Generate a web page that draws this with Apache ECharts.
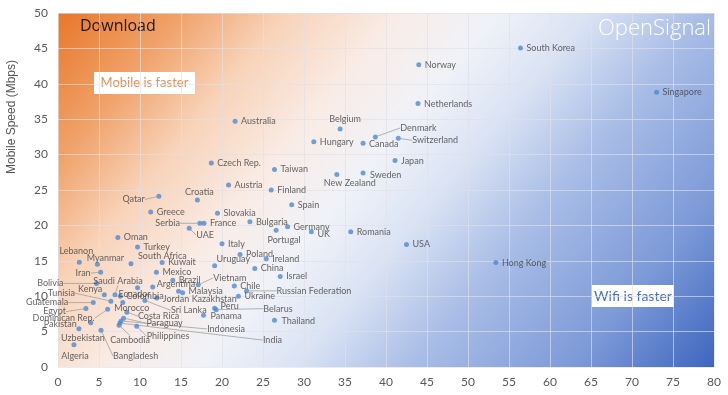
<!DOCTYPE html>
<html><head><meta charset="utf-8">
<script src="https://cdn.jsdelivr.net/npm/echarts@6/dist/echarts.min.js"></script>
<style>html,body{margin:0;padding:0;background:#fff}#c{width:728px;height:395px}</style>
</head><body><div id="c"></div>
<script>
const countries = ["South Korea","Norway","Singapore","Netherlands","Australia","Belgium","Denmark","Switzerland","Hungary","Canada","Japan","Czech Rep.","Taiwan","Sweden","New Zealand","Austria","Finland","Qatar","Croatia","Spain","Greece","Slovakia","Bulgaria","Serbia","France","Germany","UAE","Portugal","UK","Romania","Oman","Italy","USA","Turkey","Poland","Ireland","Lebanon","Kuwait","South Africa","Hong Kong","Myanmar","Uruguay","China","Iran","Mexico","Israel","Brazil","Vietnam","Bolivia","Chile","Argentina","Ecuador","Russian Federation","Malaysia","Kazakhstan","Kenya","Saudi Arabia","Colombia","Ukraine","Jordan","Sri Lanka","Tunisia","Guatemala","Morocco","Peru","Belarus","Egypt","Dominican Rep.","Costa Rica","Panama","Thailand","Paraguay","Indonesia","Pakistan","India","Philippines","Cambodia","Uzbekistan","Bangladesh","Algeria"];
const wifiSpeed = [56.4,44.0,73.0,43.9,21.6,34.4,38.7,41.5,31.2,37.2,41.1,18.7,26.4,37.2,34.0,20.8,26.0,12.3,17.0,28.5,11.3,19.45,23.4,17.3,17.8,28.0,16.0,26.6,30.9,35.7,7.3,20.0,42.5,9.7,22.2,25.4,2.6,12.7,8.9,53.4,4.8,19.1,24.0,5.2,12.0,27.1,14.0,17.1,4.7,21.5,11.55,9.7,23.0,14.7,15.2,5.65,6.95,7.6,22.0,12.05,10.6,6.45,4.3,7.9,19.1,19.3,3.4,6.05,8.4,17.75,26.4,8.0,7.7,4.0,7.55,9.6,7.45,2.55,5.25,1.95];
const mobileSpeed = [45.06,42.7,38.8,37.2,34.7,33.6,32.5,32.3,31.8,31.6,29.15,28.8,27.9,27.4,27.2,25.7,25.0,24.1,23.6,22.9,21.9,21.7,20.5,20.3,20.3,19.8,19.6,19.3,19.1,19.1,18.3,17.4,17.3,16.95,15.9,15.3,14.8,14.75,14.6,14.75,14.5,14.3,13.9,13.4,13.4,12.8,12.25,11.6,11.8,11.45,11.3,11.2,10.75,10.7,10.5,10.2,10.2,10.0,10.0,9.75,9.4,9.3,9.1,9.1,8.3,8.1,8.25,8.15,7.75,7.3,6.6,6.9,6.5,6.25,6.2,5.75,5.9,5.4,5.2,3.15];
const xTicks = [0,5,10,15,20,25,30,35,40,45,50,55,60,65,70,75,80];
const yTicks = [0,5,10,15,20,25,30,35,40,45,50];

// label placement (offset from dot centre, in px) and leader lines
const LABEL_POS = {
  "Belgium":[5,-10,'center'],"Denmark":[25,-9],"Switzerland":[14,2],"Canada":[6,1],
  "New Zealand":[13,9,'center'],"Sweden":[7,2],"Qatar":[-14,3,'right'],"Croatia":[2,-8,'center'],
  "Serbia":[-20,0,'right'],"UAE":[7,7],"Portugal":[8,10,'center'],"UK":[6,2],
  "Lebanon":[-3,-11,'center'],"South Africa":[7,-8],"Myanmar":[8,-6,'center'],"Uruguay":[2,-7],
  "Iran":[-10,1,'right'],"Vietnam":[15,-7],"Bolivia":[-33,0,'right'],"Argentina":[4,-3],
  "Ecuador":[-3,6,'center'],"Russian Federation":[30,0],"Malaysia":[10,0],"Kazakhstan":[9,6],
  "Kenya":[-2,-6,'right'],"Saudi Arabia":[3,-14,'center'],"Colombia":[6,0],"Jordan":[6,1],
  "Sri Lanka":[26,10],"Tunisia":[-36,-8,'right'],"Guatemala":[-25,0,'right'],"Egypt":[-20,3,'right'],
  "Morocco":[9,6,'center'],"Peru":[6,-2],"Belarus":[47,-1],"Dominican Rep.":[-13,9,'right'],
  "Costa Rica":[11,4],"Panama":[7,1],"Thailand":[7,1],"Paraguay":[23,5],"Indonesia":[86,8],
  "Pakistan":[-14,1,'right'],"India":[143,17],"Philippines":[10,10],"Cambodia":[11,15,'center'],
  "Uzbekistan":[4,9,'center'],"Bangladesh":[12,26],"Algeria":[1,11,'center'],"Hong Kong":[6,1]
};
const LEADERS = ["Denmark","Switzerland","Serbia","UAE","Iran","Vietnam","Bolivia","Russian Federation","Saudi Arabia","Sri Lanka","Tunisia","Guatemala","Egypt","Belarus","Dominican Rep.","Costa Rica","Paraguay","Indonesia","India","Philippines","Cambodia","Bangladesh","Qatar"];

const chart = echarts.init(document.getElementById('c'), null, {renderer:'canvas'});
const data = countries.map((n,i)=>({name:n, value:[wifiSpeed[i], mobileSpeed[i]], labelLine:{show: LEADERS.indexOf(n)>=0}}));
const bg = new echarts.graphic.LinearGradient(0,0,0.856,1.321,[
  {offset:0,color:'#e8772a'},{offset:0.13,color:'#f0a26a'},{offset:0.24,color:'#f8d3b9'},
  {offset:0.36,color:'#f9ece6'},{offset:0.46,color:'#f0f2f8'},{offset:0.56,color:'#dae3f4'},
  {offset:0.68,color:'#a9bde6'},{offset:0.85,color:'#7d9ad8'},{offset:1,color:'#3e66bf'}]);
const gridLine = {show:true, lineStyle:{color:'rgba(225,225,232,0.65)', width:1}};
chart.setOption({
  animation:false,
  grid:{left:58,right:14,top:13,bottom:28,show:true,backgroundColor:bg,borderWidth:0},
  xAxis:{type:'value',min:xTicks[0],max:xTicks[xTicks.length-1],interval:5,
    axisLine:{show:false},axisTick:{show:false},splitLine:gridLine,
    axisLabel:{color:'#595959',fontSize:12,fontFamily:'Lato',margin:9}},
  yAxis:{type:'value',min:yTicks[0],max:yTicks[yTicks.length-1],interval:5,
    axisLine:{show:false},axisTick:{show:false},splitLine:gridLine,
    axisLabel:{color:'#595959',fontSize:12,fontFamily:'Lato',margin:10}},
  series:[{
    type:'scatter',symbolSize:5,data:data,
    itemStyle:{color:'#4f8ad0'},
    label:{show:true,formatter:'{b}',position:'right',color:'#404040',fontSize:9,fontFamily:'Lato'},
    labelLine:{lineStyle:{color:'#a0a0a0',width:0.8}},
    labelLayout:function(p){
      const n = countries[p.dataIndex];
      const o = LABEL_POS[n] || [6,0,'left'];
      const cx = p.rect.x + p.rect.width/2, cy = p.rect.y + p.rect.height/2;
      return {x: cx + o[0], y: cy + o[1], align: o[2] || 'left', verticalAlign:'middle'};
    }
  }],
  graphic:[
    {type:'text',left:80,top:18,style:{text:'Download',fill:'#1a1a1a',font:'16px "Open Sans"'}},
    {type:'text',left:598,top:18,style:{text:'OpenSignal',fill:'#ffffff',font:'300 22px "Open Sans"'}},
    {type:'group',left:94,top:72,children:[
      {type:'rect',shape:{x:0,y:0,width:101,height:22},style:{fill:'#ffffff'}},
      {type:'text',x:50.5,y:11,style:{text:'Mobile is faster',fill:'#e0925a',font:'13px Lato',align:'center',verticalAlign:'middle'}}]},
    {type:'group',left:592,top:285,children:[
      {type:'rect',shape:{x:0,y:0,width:82,height:22},style:{fill:'#ffffff'}},
      {type:'text',x:41,y:11,style:{text:'Wifi is faster',fill:'#4a70c0',font:'14px Lato',align:'center',verticalAlign:'middle'}}]},
    {type:'text',x:12,y:117,rotation:Math.PI/2,style:{text:'Mobile Speed (Mbps)',fill:'#555555',font:'12px "Liberation Sans"',align:'center',verticalAlign:'middle'}}
  ]
});
</script></body></html>
